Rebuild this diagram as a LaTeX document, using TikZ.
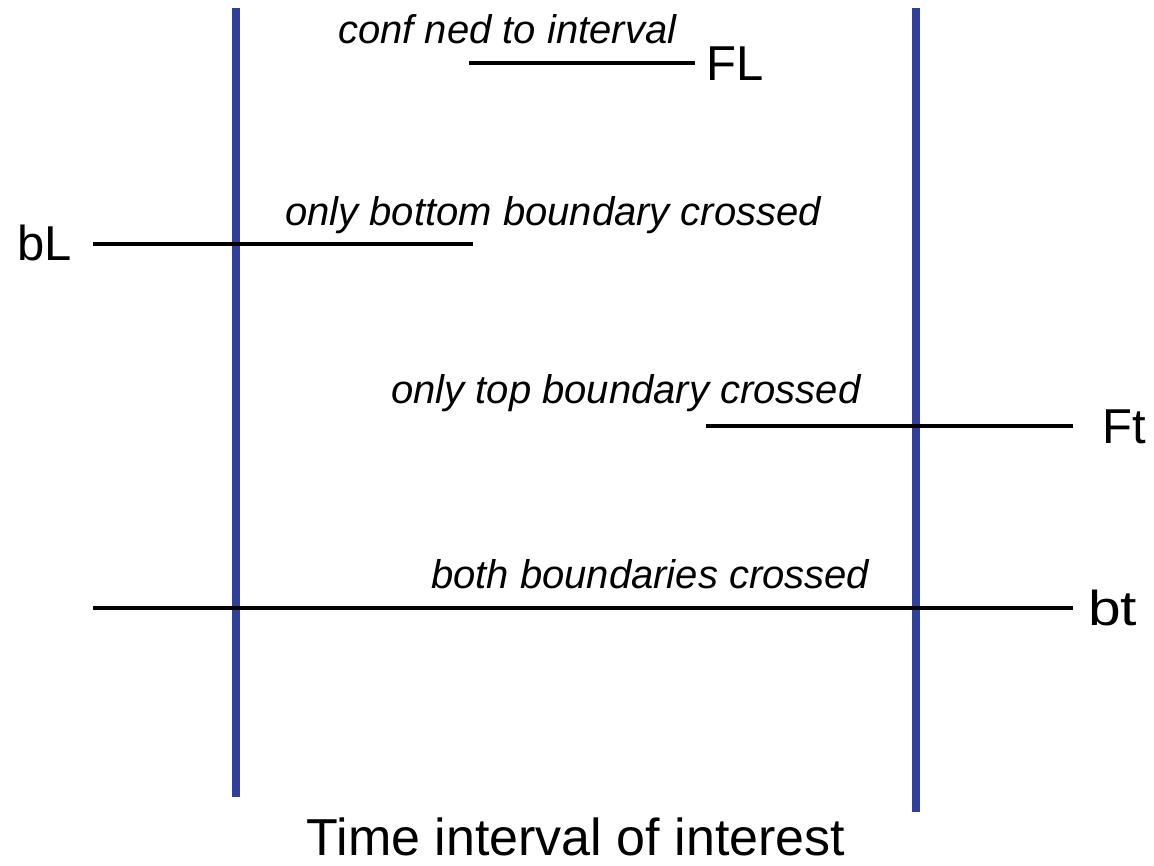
\documentclass[tikz,border=0pt]{standalone}
\usepackage{fontspec}
\setmainfont{Liberation Sans}
\definecolor{bar}{RGB}{46,64,156}
\begin{document}
\begin{tikzpicture}[x=1pt,y=-1pt,
  bound/.style={draw=bar,line width=8pt},
  seg/.style={draw=black,line width=3.5pt},
  captxt/.style={inner sep=0pt,font=\itshape\fontsize{40}{44}\selectfont,anchor=base west},
  lab/.style={inner sep=0pt,font=\fontsize{49}{52}\selectfont,anchor=base west}]
\useasboundingbox (0,0) rectangle (1154,865);
% boundaries
\coordinate (L1) at (236,8); \coordinate (L2) at (236,797);
\coordinate (R1) at (916,8); \coordinate (R2) at (916,812);
\draw[bound] (L1) -- (L2);
\draw[bound] (R1) -- (R2);
% segments
\coordinate (a1) at (469,63); \coordinate (a2) at (695,63);
\coordinate (b1) at (93,244); \coordinate (b2) at (473,244);
\coordinate (c1) at (706,426); \coordinate (c2) at (1073,426);
\coordinate (d1) at (93,608); \coordinate (d2) at (1073,608);
\draw[seg] (a1) -- (a2);
\draw[seg] (b1) -- (b2);
\draw[seg] (c1) -- (c2);
\draw[seg] (d1) -- (d2);
% captions
\node[captxt] (ta) at (338,43) {conf ned to interval};
\node[captxt] (tb) at (285,225) {only bottom boundary crossed};
\node[captxt] (tc) at (391,403) {only top boundary crossed};
\node[captxt] (td) at (431,588) {both boundaries crossed};
% labels
\node[lab] (FL) at (706,80) {FL};
\node[lab] (bL) at (17,260) {bL};
\node[lab] (Ft) at (1102,443) {Ft};
\node[lab] (bt) at (1088,625) {\scalebox{1.2}[1]{bt}};
\node[inner sep=0pt,font=\fontsize{52}{54}\selectfont,anchor=base] (title) at (576,855) {Time interval of interest};
\end{tikzpicture}
\end{document}
